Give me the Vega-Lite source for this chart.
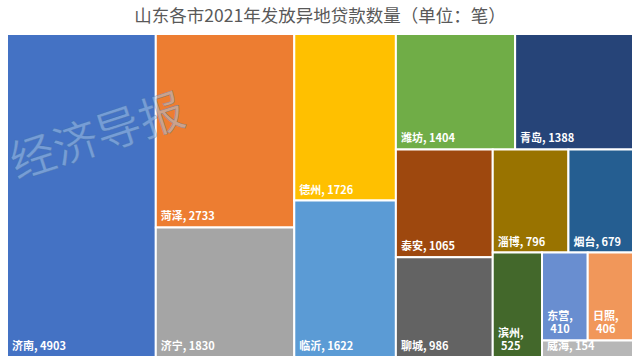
{
  "$schema": "https://vega.github.io/schema/vega-lite/v6.json",
  "width": 626,
  "height": 323,
  "autosize": {"type": "none"},
  "padding": {"left": 7, "top": 34, "right": 7, "bottom": 7},
  "background": "white",
  "config": {"view": {"stroke": null}},
  "title": {
    "text": "山东各市2021年发放异地贷款数量（单位：笔）",
    "font": "Noto Sans CJK SC",
    "fontSize": 17.5,
    "fontWeight": "normal",
    "color": "#595959",
    "anchor": "middle",
    "offset": 8
  },
  "layer": [
    {
      "data": {
        "values": [
          {"order": 1, "city": "济南", "value": 4903, "path": "0", "label": "济南, 4903"},
          {"order": 2, "city": "菏泽", "value": 2733, "path": "1.0", "label": "菏泽, 2733"},
          {"order": 3, "city": "济宁", "value": 1830, "path": "1.1", "label": "济宁, 1830"},
          {"order": 4, "city": "德州", "value": 1726, "path": "2.0", "label": "德州, 1726"},
          {"order": 5, "city": "临沂", "value": 1622, "path": "2.1", "label": "临沂, 1622"},
          {"order": 6, "city": "潍坊", "value": 1404, "path": "3.0.0", "label": "潍坊, 1404"},
          {"order": 7, "city": "青岛", "value": 1388, "path": "3.0.1", "label": "青岛, 1388"},
          {"order": 8, "city": "泰安", "value": 1065, "path": "3.1.0.0", "label": "泰安, 1065"},
          {"order": 9, "city": "聊城", "value": 986, "path": "3.1.0.1", "label": "聊城, 986"},
          {"order": 10, "city": "淄博", "value": 796, "path": "3.1.1.0.0", "label": "淄博, 796"},
          {"order": 11, "city": "烟台", "value": 679, "path": "3.1.1.0.1", "label": "烟台, 679"},
          {"order": 12, "city": "滨州", "value": 525, "path": "3.1.1.1.0", "label": "滨州,\n525"},
          {"order": 13, "city": "东营", "value": 410, "path": "3.1.1.1.1.0.0", "label": "东营,\n410"},
          {"order": 14, "city": "日照", "value": 406, "path": "3.1.1.1.1.0.1", "label": "日照,\n406"},
          {"order": 15, "city": "威海", "value": 154, "path": "3.1.1.1.1.1", "label": "威海, 154"}
        ]
      },
      "transform": [
        {"calculate": "join(slice(split(datum.path,'.'),0,1),'.')", "as": "n1"},
        {"calculate": "join(slice(split(datum.path,'.'),0,2),'.')", "as": "n2"},
        {"calculate": "join(slice(split(datum.path,'.'),0,3),'.')", "as": "n3"},
        {"calculate": "join(slice(split(datum.path,'.'),0,4),'.')", "as": "n4"},
        {"calculate": "join(slice(split(datum.path,'.'),0,5),'.')", "as": "n5"},
        {"calculate": "join(slice(split(datum.path,'.'),0,6),'.')", "as": "n6"},
        {"calculate": "join(slice(split(datum.path,'.'),0,7),'.')", "as": "n7"},
        {"joinaggregate": [{"op": "sum", "field": "value", "as": "t0"}]},
        {"joinaggregate": [{"op": "sum", "field": "value", "as": "t1"}], "groupby": ["n1"]},
        {"joinaggregate": [{"op": "sum", "field": "value", "as": "t2"}], "groupby": ["n2"]},
        {"joinaggregate": [{"op": "sum", "field": "value", "as": "t3"}], "groupby": ["n3"]},
        {"joinaggregate": [{"op": "sum", "field": "value", "as": "t4"}], "groupby": ["n4"]},
        {"joinaggregate": [{"op": "sum", "field": "value", "as": "t5"}], "groupby": ["n5"]},
        {"joinaggregate": [{"op": "sum", "field": "value", "as": "t6"}], "groupby": ["n6"]},
        {"joinaggregate": [{"op": "sum", "field": "value", "as": "t7"}], "groupby": ["n7"]},
        {"window": [{"op": "sum", "field": "value", "as": "c0"}], "sort": [{"field": "order", "order": "ascending"}], "frame": [null, 0]},
        {"window": [{"op": "sum", "field": "value", "as": "c1"}], "groupby": ["n1"], "sort": [{"field": "order", "order": "ascending"}], "frame": [null, 0]},
        {"window": [{"op": "sum", "field": "value", "as": "c2"}], "groupby": ["n2"], "sort": [{"field": "order", "order": "ascending"}], "frame": [null, 0]},
        {"window": [{"op": "sum", "field": "value", "as": "c3"}], "groupby": ["n3"], "sort": [{"field": "order", "order": "ascending"}], "frame": [null, 0]},
        {"window": [{"op": "sum", "field": "value", "as": "c4"}], "groupby": ["n4"], "sort": [{"field": "order", "order": "ascending"}], "frame": [null, 0]},
        {"window": [{"op": "sum", "field": "value", "as": "c5"}], "groupby": ["n5"], "sort": [{"field": "order", "order": "ascending"}], "frame": [null, 0]},
        {"window": [{"op": "sum", "field": "value", "as": "c6"}], "groupby": ["n6"], "sort": [{"field": "order", "order": "ascending"}], "frame": [null, 0]},
        {"window": [{"op": "sum", "field": "value", "as": "c7"}], "groupby": ["n7"], "sort": [{"field": "order", "order": "ascending"}], "frame": [null, 0]},
        {"calculate": "(datum.c0-datum.c1)/datum.t0 + (datum.t1/datum.t0)*((datum.c2-datum.c3)/datum.t2 + (datum.t3/datum.t2)*((datum.c4-datum.c5)/datum.t4 + (datum.t5/datum.t4)*((datum.c6-datum.c7)/datum.t6)))", "as": "x0"},
        {"calculate": "datum.x0 + (datum.t1/datum.t0)*(datum.t3/datum.t2)*(datum.t5/datum.t4)*(datum.t7/datum.t6)", "as": "x1"},
        {"calculate": "(datum.c1-datum.c2)/datum.t1 + (datum.t2/datum.t1)*((datum.c3-datum.c4)/datum.t3 + (datum.t4/datum.t3)*((datum.c5-datum.c6)/datum.t5))", "as": "y0"},
        {"calculate": "datum.y0 + (datum.t2/datum.t1)*(datum.t4/datum.t3)*(datum.t6/datum.t5)", "as": "y1"}
      ],
      "layer": [
        {
          "mark": {"type": "rect", "stroke": "white", "strokeWidth": 2},
          "encoding": {
            "x": {"field": "x0", "type": "quantitative", "scale": {"domain": [0, 1], "nice": false, "zero": false}, "axis": null},
            "x2": {"field": "x1"},
            "y": {"field": "y0", "type": "quantitative", "scale": {"domain": [0, 1], "nice": false, "zero": false, "reverse": true}, "axis": null},
            "y2": {"field": "y1"},
            "color": {
              "field": "city",
              "type": "nominal",
              "legend": null,
              "scale": {
                "domain": ["济南", "菏泽", "济宁", "德州", "临沂", "潍坊", "青岛", "泰安", "聊城", "淄博", "烟台", "滨州", "东营", "日照", "威海"],
                "range": ["#4472C4", "#ED7D31", "#A5A5A5", "#FFC000", "#5B9BD5", "#70AD47", "#264478", "#9E480E", "#636363", "#997300", "#255E91", "#43682B", "#698ED0", "#F1975A", "#B7B7B7"]
              }
            }
          }
        },
        {
          "transform": [{"filter": "indexof(datum.label, '\\n') < 0"}],
          "mark": {"type": "text", "align": "left", "baseline": "alphabetic", "dx": 5, "dy": -7, "font": "Noto Sans CJK SC", "fontSize": 11, "fontWeight": "bold", "color": "white"},
          "encoding": {
            "x": {"field": "x0", "type": "quantitative"},
            "y": {"field": "y1", "type": "quantitative"},
            "text": {"field": "label"}
          }
        },
        {
          "transform": [{"filter": "indexof(datum.label, '\\n') >= 0"}],
          "mark": {"type": "text", "align": "center", "baseline": "alphabetic", "dx": 18, "dy": -20, "lineBreak": "\n", "lineHeight": 13, "font": "Noto Sans CJK SC", "fontSize": 11, "fontWeight": "bold", "color": "white"},
          "encoding": {
            "x": {"field": "x0", "type": "quantitative"},
            "y": {"field": "y1", "type": "quantitative"},
            "text": {"field": "label"}
          }
        }
      ]
    },
    {
      "data": {"values": [{"mark": "经济导报"}]},
      "mark": {"type": "text", "align": "center", "baseline": "middle", "angle": -18, "font": "Noto Sans CJK SC", "fontSize": 45, "fontWeight": "normal", "fill": "#A9C8E8", "fillOpacity": 0.5, "stroke": "#3A6A9A", "strokeWidth": 0.6, "strokeOpacity": 0.45},
      "encoding": {
        "x": {"datum": 0.145, "type": "quantitative"},
        "y": {"datum": 0.322, "type": "quantitative"},
        "text": {"field": "mark"}
      }
    }
  ]
}
